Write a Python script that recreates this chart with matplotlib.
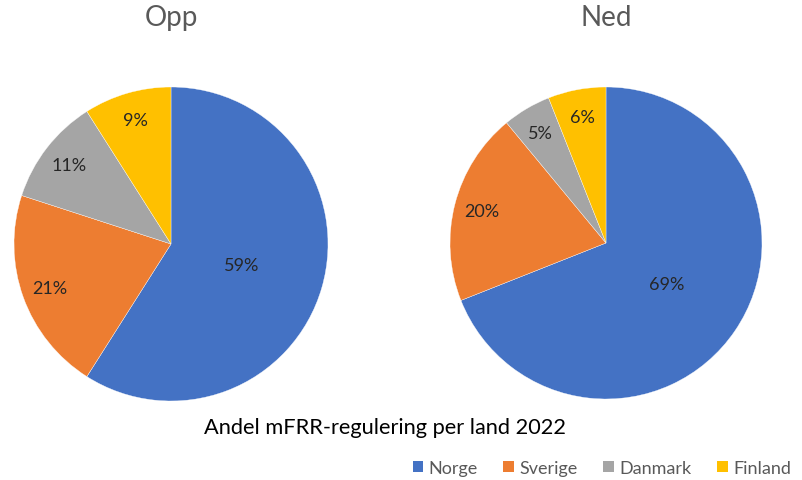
import matplotlib
matplotlib.use("Agg")
import matplotlib.pyplot as plt
import matplotlib.patches as mpatches

# Data
countries = ["Norge", "Sverige", "Danmark", "Finland"]
opp_share = [59, 21, 11, 9]
ned_share = [69, 20, 5, 6]
panel_titles = ["Opp", "Ned"]
caption = "Andel mFRR-regulering per land 2022"

colors = ["#4472C4", "#ED7D31", "#A5A5A5", "#FFC000"]
plt.rcParams["font.family"] = ["Lato", "DejaVu Sans"]

W, H = 803, 481
fig = plt.figure(figsize=(W / 100, H / 100), dpi=100, facecolor="white")


def pie_axes(cx, cy, r):
    # pixel centre/radius -> figure fraction axes
    return fig.add_axes([(cx - r) / W, (H - cy - r) / H, 2 * r / W, 2 * r / H])


def draw_pie(ax, values):
    wedges, texts, autotexts = ax.pie(
        values, colors=colors, startangle=90, counterclock=False,
        radius=1, autopct=lambda p: f"{p:.0f}%", pctdistance=0.82,
        wedgeprops=dict(edgecolor="white", linewidth=0.25),
        textprops=dict(fontsize=13, color="#262626"))
    # biggest slice label sits closer to centre
    x, y = autotexts[0].get_position()
    autotexts[0].set_position((x * 0.47 / 0.82, y * 0.47 / 0.82))
    ax.set_xlim(-1, 1)
    ax.set_ylim(-1, 1)
    ax.set_aspect("auto")
    ax.axis("off")
    return wedges


draw_pie(pie_axes(171, 245, 157), opp_share)
draw_pie(pie_axes(606, 244, 156), ned_share)

fig.text(171 / W, 1 - 18 / H, panel_titles[0], ha="center", va="center",
         fontsize=20, color="#595959")
fig.text(606 / W, 1 - 18 / H, panel_titles[1], ha="center", va="center",
         fontsize=20, color="#595959")

fig.text(385 / W, 1 - 428 / H, caption, ha="center", va="center",
         fontsize=15.7, color="#000000")

handles = [mpatches.Patch(facecolor=c, edgecolor="none", label=n)
           for c, n in zip(colors, countries)]
fig.legend(handles=handles, loc="center right", bbox_to_anchor=(0.985, 1 - 469 / H),
           ncol=4, frameon=False, fontsize=13, handlelength=0.6, handleheight=0.6,
           handletextpad=0.3, columnspacing=1.4, labelcolor="#595959",
           borderpad=0, borderaxespad=0)

plt.savefig("out.png", dpi=100, facecolor="white")
plt.close()
